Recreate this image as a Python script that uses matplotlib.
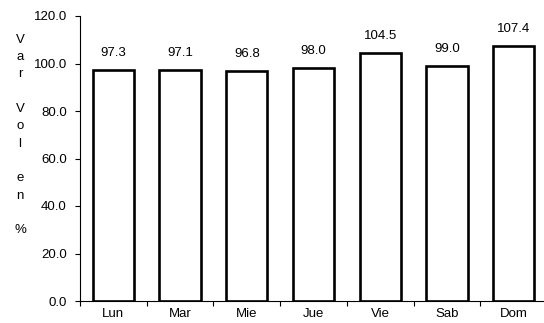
import matplotlib
matplotlib.use("Agg")
import matplotlib.pyplot as plt
import numpy as np

categories = ["Lun", "Mar", "Mie", "Jue", "Vie", "Sab", "Dom"]
values = [97.3, 97.1, 96.8, 98.0, 104.5, 99.0, 107.4]
yticks = [0, 20, 40, 60, 80, 100, 120]

plt.rcParams['font.family'] = ['Liberation Sans', 'DejaVu Sans']
FS = 9.5
plt.rcParams['font.size'] = FS

fig = plt.figure(figsize=(5.44, 3.23), dpi=100)
W, H = 544, 323
ax = fig.add_axes([80 / W, (H - 301) / H, (547 - 80) / W, (301 - 16) / H])

x = np.arange(len(categories))
ax.bar(x, values, width=0.62, facecolor="white", edgecolor="black", linewidth=1.9)
for xi, v in zip(x, values):
    ax.annotate(f"{v:.1f}", (xi, v), xytext=(0, 10), textcoords="offset points",
                ha="center", va="baseline", fontsize=FS)

ax.set_xlim(-0.5, len(categories) - 0.5)
ax.set_ylim(0, 120)
ax.set_yticks(yticks)
ax.set_yticklabels([f"{t:.1f}" for t in yticks])
ax.set_xticks(x)
ax.set_xticklabels(categories)
ax.set_xticks(np.arange(len(categories) + 1) - 0.5, minor=True)
ax.tick_params(axis="x", which="major", length=0, pad=5)
ax.tick_params(axis="x", which="minor", length=3.5, width=0.8, direction="out")
ax.tick_params(axis="y", length=3.5, width=0.8, direction="out", pad=6)
for s in ["top", "right"]:
    ax.spines[s].set_visible(False)
for s in ["left", "bottom"]:
    ax.spines[s].set_linewidth(0.8)

fig.text(20 / W, 1 - 135 / H, "V\na\nr\n\nV\no\nl\n\ne\nn\n\n%", ha="center", va="center",
         fontsize=FS, linespacing=1.59)

fig.savefig("out.png", dpi=100)
